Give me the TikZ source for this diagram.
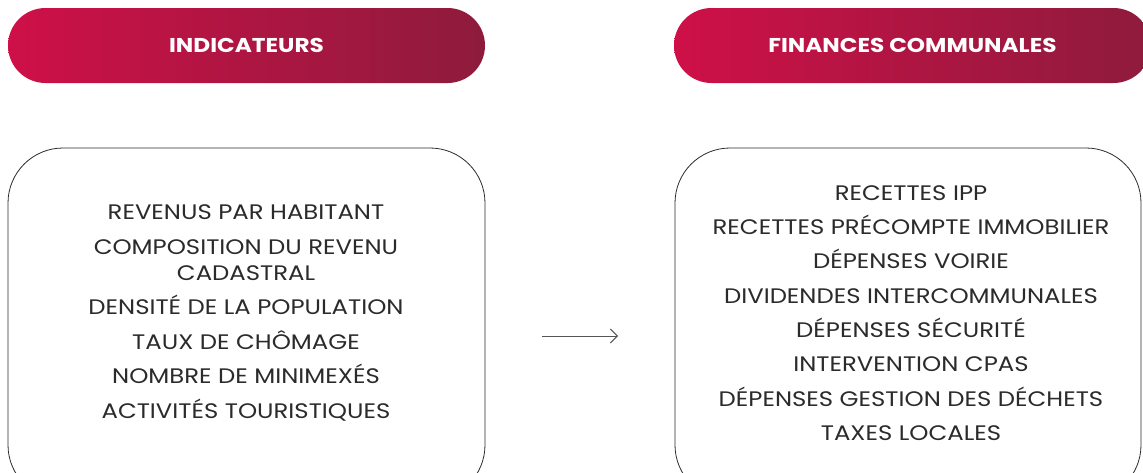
\documentclass[tikz,border=0pt]{standalone}
\usepackage{fontspec}
\setmainfont{Poppins}
\newfontfamily\widefont[FakeStretch=1.16]{Poppins}
\usetikzlibrary{arrows.meta,positioning}
\definecolor{crimsonL}{RGB}{206,16,72}
\definecolor{crimsonR}{RGB}{142,27,60}
\definecolor{inkgray}{RGB}{43,43,43}
\begin{document}
\begin{tikzpicture}[x=1pt,y=-1pt,
  pill/.style={rounded corners=37.5pt, minimum width=477pt, minimum height=75pt,
    left color=crimsonL, right color=crimsonR, inner sep=0pt,
    text=white, font=\widefont\fontsize{20}{24}\selectfont\bfseries},
  panel/.style={draw=inkgray, line width=0.8pt, rounded corners=55pt,
    minimum width=#1, minimum height=352pt, inner sep=0pt},
  itemlist/.style={align=center, text=inkgray, inner sep=0pt,
    font=\widefont\fontsize{21}{26}\selectfont}]
  \useasboundingbox (0,0) rectangle (1143,472);
  \clip (0,0) rectangle (1143,472);
  \fill[white] (0,0) rectangle (1143,472);
  % headers
  \node[pill] (hind) at (246.5,45.5) {INDICATEURS};
  \node[pill] (hfin) at (912.5,45.5) {FINANCES COMMUNALES};
  % panels
  \node[panel=477pt] (lbox) at (246.5,324) {};
  \node[panel=466pt] (rbox) at (908,324) {};
  \node[itemlist] (llist) at (246,313) {REVENUS PAR HABITANT\\[8.5pt]
    COMPOSITION DU REVENU\\CADASTRAL\\[8.5pt]
    DENSITÉ DE LA POPULATION\\[8.5pt]
    TAUX DE CHÔMAGE\\[8.5pt]
    NOMBRE DE MINIMEXÉS\\[8.5pt]
    ACTIVITÉS TOURISTIQUES};
  \node[itemlist] (rlist) at (911,313) {RECETTES IPP\\[8.3pt]
    RECETTES PRÉCOMPTE IMMOBILIER\\[8.3pt]
    DÉPENSES VOIRIE\\[8.3pt]
    DIVIDENDES INTERCOMMUNALES\\[8.3pt]
    DÉPENSES SÉCURITÉ\\[8.3pt]
    INTERVENTION CPAS\\[8.3pt]
    DÉPENSES GESTION DES DÉCHETS\\[8.3pt]
    TAXES LOCALES};
  % arrow
  \coordinate (arrS) at (542,336);
  \coordinate (arrE) at (618,336);
  \draw[-{Straight Barb[length=7pt,width=14pt]}, draw=inkgray!80, line width=0.9pt] (arrS) -- (arrE);
\end{tikzpicture}
\end{document}
